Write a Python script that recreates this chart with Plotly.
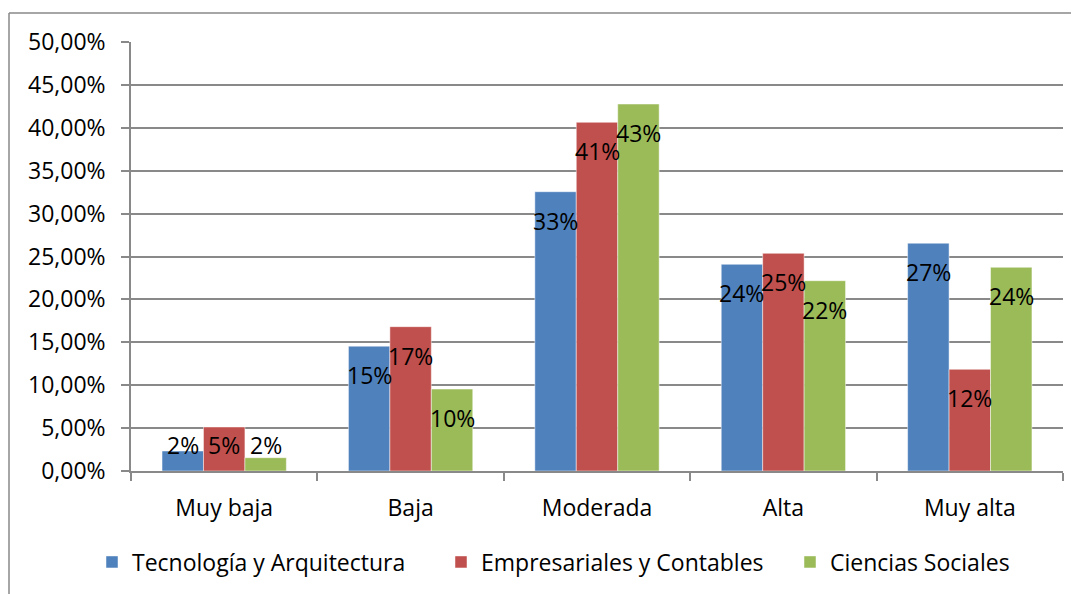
import plotly.graph_objects as go
import numpy as np

categories = ["Muy baja", "Baja", "Moderada", "Alta", "Muy alta"]
series_names = ["Tecnología y Arquitectura", "Empresariales y Contables", "Ciencias Sociales"]
tecnologia = [0.0233, 0.1455, 0.3255, 0.2409, 0.2655]
empresariales = [0.0513, 0.1682, 0.4064, 0.2537, 0.1185]
sociales = [0.0155, 0.0955, 0.4277, 0.2218, 0.2374]
colors = ["#4F81BD", "#C0504D", "#9BBB59"]
y_ticks = [0, 0.05, 0.10, 0.15, 0.20, 0.25, 0.30, 0.35, 0.40, 0.45, 0.50]

FONT = "Open Sans"
FS = 23
GRID = "#898989"

# page has an 8px body margin; compensate in the figure margins
L, T, R, B = 123, 34, 24, 131
PW = 1079 - L - R
PH = 594 - T - B

fig = go.Figure()
all_series = [tecnologia, empresariales, sociales]
for name, vals, col in zip(series_names, all_series, colors):
    fig.add_trace(go.Bar(
        x=categories, y=vals, name=name,
        marker=dict(color=col, line=dict(color="rgba(255,255,255,0.6)", width=0.8)),
    ))

# data labels (inside end, clamped near the base for tiny bars)
bar_px = 41.5
px_per_unit = PH / 0.5
for i, vals in enumerate(all_series):
    for cat, v in zip(categories, vals):
        ypos = max(v - 29 / px_per_unit, 26 / px_per_unit)
        fig.add_annotation(
            x=cat, y=ypos, xref="x", yref="y",
            text=f"{round(v * 100)}%", showarrow=False,
            xshift=(i - 1) * bar_px, yanchor="middle", xanchor="center",
            font=dict(family=FONT, size=FS, color="black"),
        )

# outer chart frame (top and left edges visible)
fx = (1 - L) / PW
fy = 1 + (T - 5) / PH
fig.add_shape(type="line", xref="paper", yref="paper", x0=fx, x1=fx, y0=-2, y1=fy,
              line=dict(color=GRID, width=1.5))
fig.add_shape(type="line", xref="paper", yref="paper", x0=fx, x1=2, y0=fy, y1=fy,
              line=dict(color=GRID, width=1.5))

fig.update_layout(
    width=1079, height=594,
    margin=dict(l=L, r=R, t=T, b=B, autoexpand=False),
    paper_bgcolor="white", plot_bgcolor="white",
    barmode="group", bargap=0.333, bargroupgap=0,
    separators=", ",
    font=dict(family=FONT, size=FS, color="black"),
    showlegend=True,
    legend=dict(
        orientation="h", x=(84 - L) / PW, xanchor="left", y=-(554 - 463) / PH, yanchor="middle",
        font=dict(family=FONT, size=FS, color="black"),
        entrywidth=304, entrywidthmode="pixels", itemwidth=30,
        traceorder="normal",
    ),
    xaxis=dict(
        range=[-0.5, 4.5], showline=True, linecolor=GRID, linewidth=1.5,
        ticks="outside", tickson="boundaries", ticklen=8, tickcolor=GRID, tickwidth=1.5,
        showgrid=False, ticklabelstandoff=16, automargin=False,
        tickfont=dict(family=FONT, size=FS, color="black"),
    ),
    yaxis=dict(
        range=[0, 0.5], tickvals=y_ticks, tickformat=".2%",
        showline=True, linecolor=GRID, linewidth=1.5,
        ticks="outside", ticklen=8, tickcolor=GRID, tickwidth=1.5,
        showgrid=True, gridcolor=GRID, gridwidth=1.5, zeroline=False,
        ticklabelstandoff=11, automargin=False,
        tickfont=dict(family=FONT, size=FS, color="black"),
    ),
)

fig.write_html("out.html")
